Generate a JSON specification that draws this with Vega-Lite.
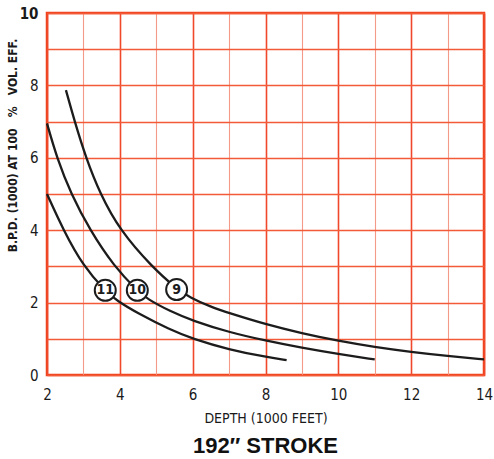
{
  "$schema": "https://vega.github.io/schema/vega-lite/v6.json",
  "autosize": "none",
  "width": 437,
  "height": 362,
  "padding": {"left": 47, "top": 13, "right": 10, "bottom": 84},
  "background": "white",
  "config": {
    "view": {"stroke": "#f0421c", "strokeWidth": 2.5},
    "font": "Liberation Sans Narrow, DejaVu Sans Condensed, sans-serif"
  },
  "title": {
    "text": "192″ STROKE",
    "orient": "bottom",
    "anchor": "middle",
    "font": "Liberation Sans, Arial, sans-serif",
    "fontSize": 22,
    "fontWeight": "bold",
    "color": "#111111",
    "offset": 11
  },
  "datasets": {
    "curves": [
      {"curve": "9", "depth": 2.52, "bpd": 7.87},
      {"curve": "9", "depth": 2.76, "bpd": 7.0},
      {"curve": "9", "depth": 3.07, "bpd": 6.0},
      {"curve": "9", "depth": 3.46, "bpd": 5.0},
      {"curve": "9", "depth": 4.0, "bpd": 4.0},
      {"curve": "9", "depth": 4.87, "bpd": 3.0},
      {"curve": "9", "depth": 5.56, "bpd": 2.38},
      {"curve": "9", "depth": 5.93, "bpd": 2.14},
      {"curve": "9", "depth": 6.5, "bpd": 1.88},
      {"curve": "9", "depth": 7.0, "bpd": 1.71},
      {"curve": "9", "depth": 8.0, "bpd": 1.4},
      {"curve": "9", "depth": 9.0, "bpd": 1.15},
      {"curve": "9", "depth": 10.0, "bpd": 0.94},
      {"curve": "9", "depth": 11.0, "bpd": 0.77},
      {"curve": "9", "depth": 12.0, "bpd": 0.635},
      {"curve": "9", "depth": 13.0, "bpd": 0.525},
      {"curve": "9", "depth": 14.0, "bpd": 0.43},
      {"curve": "10", "depth": 2.0, "bpd": 6.95},
      {"curve": "10", "depth": 2.27, "bpd": 6.0},
      {"curve": "10", "depth": 2.66, "bpd": 5.0},
      {"curve": "10", "depth": 3.18, "bpd": 4.0},
      {"curve": "10", "depth": 3.84, "bpd": 3.0},
      {"curve": "10", "depth": 4.48, "bpd": 2.33},
      {"curve": "10", "depth": 4.75, "bpd": 2.1},
      {"curve": "10", "depth": 5.38, "bpd": 1.76},
      {"curve": "10", "depth": 6.0, "bpd": 1.5},
      {"curve": "10", "depth": 7.0, "bpd": 1.18},
      {"curve": "10", "depth": 8.0, "bpd": 0.95},
      {"curve": "10", "depth": 9.0, "bpd": 0.75},
      {"curve": "10", "depth": 10.0, "bpd": 0.58},
      {"curve": "10", "depth": 11.0, "bpd": 0.43},
      {"curve": "11", "depth": 2.0, "bpd": 5.0},
      {"curve": "11", "depth": 2.45, "bpd": 4.0},
      {"curve": "11", "depth": 3.0, "bpd": 3.0},
      {"curve": "11", "depth": 3.6, "bpd": 2.32},
      {"curve": "11", "depth": 3.92, "bpd": 2.05},
      {"curve": "11", "depth": 4.5, "bpd": 1.7},
      {"curve": "11", "depth": 5.38, "bpd": 1.25},
      {"curve": "11", "depth": 6.0, "bpd": 1.0},
      {"curve": "11", "depth": 7.0, "bpd": 0.7},
      {"curve": "11", "depth": 8.0, "bpd": 0.5},
      {"curve": "11", "depth": 8.58, "bpd": 0.41}
    ],
    "labels": [
      {"curve": "9", "depth": 5.56, "bpd": 2.36},
      {"curve": "10", "depth": 4.48, "bpd": 2.34},
      {"curve": "11", "depth": 3.6, "bpd": 2.34}
    ]
  },
  "encoding": {
    "x": {
      "field": "depth",
      "type": "quantitative",
      "scale": {"domain": [2, 14], "nice": false, "zero": false},
      "axis": {
        "title": "DEPTH (1000 FEET)",
        "values": [2, 3, 4, 5, 6, 7, 8, 9, 10, 11, 12, 13, 14],
        "labelExpr": "datum.value % 2 === 0 ? datum.label : ''",
        "domain": false,
        "ticks": false,
        "labelPadding": 12,
        "labelFontSize": 15,
        "labelColor": "#1a1a1a",
        "labelFlush": false,
        "titleFontSize": 14,
        "titleFontWeight": "normal",
        "titleColor": "#1a1a1a",
        "titlePadding": 9,
        "grid": true,
        "gridColor": {"condition": {"test": "datum.value % 2 === 0", "value": "#f0482a"}, "value": "#f49a88"},
        "gridWidth": {"condition": {"test": "datum.value % 2 === 0", "value": 1.6}, "value": 1.1},
        "gridOpacity": 1
      }
    },
    "y": {
      "field": "bpd",
      "type": "quantitative",
      "scale": {"domain": [0, 10], "nice": false},
      "axis": {
        "title": "B.P.D. (1000) AT 100\u00a0\u00a0\u00a0%\u00a0\u00a0\u00a0VOL. EFF.",
        "values": [0, 1, 2, 3, 4, 5, 6, 7, 8, 9, 10],
        "labelExpr": "datum.value % 2 === 0 ? datum.label : ''",
        "domain": false,
        "ticks": false,
        "labelPadding": 9,
        "labelFontSize": 15,
        "labelFontWeight": {"condition": {"test": "datum.value === 10", "value": "bold"}, "value": "normal"},
        "labelColor": "#1a1a1a",
        "labelFlush": false,
        "titleFontSize": 12,
        "titleFontWeight": "bold",
        "titleColor": "#1a1a1a",
        "titleAnchor": "middle",
        "titleX": -28,
        "titleY": 132,
        "grid": true,
        "gridColor": "#f25a38",
        "gridWidth": 1.3,
        "gridOpacity": 1
      }
    }
  },
  "layer": [
    {
      "data": {"name": "curves"},
      "mark": {"type": "line", "color": "#1c1c1c", "strokeWidth": 2.3, "interpolate": "basis"},
      "encoding": {"detail": {"field": "curve"}}
    },
    {
      "data": {"name": "labels"},
      "mark": {"type": "point", "shape": "circle", "size": 441, "filled": false, "fill": "white", "fillOpacity": 1, "stroke": "#1c1c1c", "strokeWidth": 2, "opacity": 1}
    },
    {
      "data": {"name": "labels"},
      "mark": {"type": "text", "font": "DejaVu Sans Condensed, sans-serif", "fontWeight": "bold", "fontSize": 14, "color": "#1c1c1c", "baseline": "middle", "align": "center"},
      "encoding": {"text": {"field": "curve"}}
    }
  ]
}
